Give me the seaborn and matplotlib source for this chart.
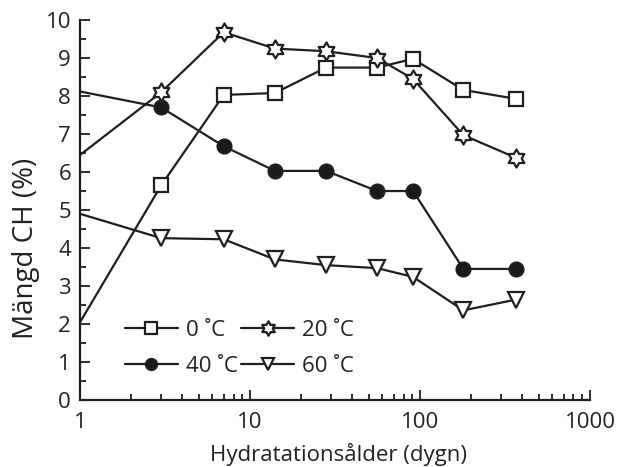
import numpy as np
import pandas as pd
import matplotlib
matplotlib.use("Agg")
import matplotlib.pyplot as plt
from matplotlib.path import Path
from matplotlib.lines import Line2D
from matplotlib.ticker import FixedLocator, NullFormatter
import seaborn as sns

days = [1, 3, 7, 14, 28, 56, 91, 180, 365]
labels = ["0 ˚C", "20 ˚C", "40 ˚C", "60 ˚C"]
ch_0 = [2.05, 5.65, 8.03, 8.08, 8.75, 8.75, 8.98, 8.16, 7.93]
ch_20 = [6.45, 8.1, 9.68, 9.25, 9.18, 9.0, 8.45, 6.97, 6.38]
ch_40 = [8.12, 7.7, 6.68, 6.03, 6.03, 5.5, 5.5, 3.45, 3.45]
ch_60 = [4.9, 4.26, 4.23, 3.7, 3.55, 3.47, 3.24, 2.36, 2.64]

sns.set_theme(style="ticks")
plt.rcParams["font.family"] = ["Open Sans", "DejaVu Sans"]

fig = plt.figure(figsize=(6.21, 4.67), dpi=100)
ax = fig.add_axes([0.129, 0.1435, 0.821, 0.8135])

hexagram = Path.unit_regular_star(6, 0.58)
markers = ["s", hexagram, "o", "v"]
fills = ["white", "white", "#1a1a1a", "white"]
sizes = [10, 13, 10, 11]
col = "#1f1f1f"
tcol = "#222222"

handles = []
for vals, lab, m, fc, ms in zip([ch_0, ch_20, ch_40, ch_60], labels, markers, fills, sizes):
    df = pd.DataFrame({"d": days, "v": vals})
    style = dict(color=col, lw=1.6, marker=m, markersize=ms, markerfacecolor=fc,
                 markeredgecolor=col, markeredgewidth=1.6)
    sns.lineplot(data=df, x="d", y="v", ax=ax, markevery=list(range(1, len(days))),
                 clip_on=False, legend=False, **style)
    handles.append(Line2D([], [], **style))

ax.set_xscale("log")
ax.set_xlim(1, 1000)
ax.set_ylim(0, 10)
ax.set_yticks(range(0, 11))
ax.yaxis.set_minor_locator(FixedLocator(np.arange(0.5, 10, 1)))
ax.set_xticks([1, 10, 100, 1000])
ax.set_xticklabels(["1", "10", "100", "1000"])
ax.xaxis.set_minor_formatter(NullFormatter())
sns.despine(ax=ax)
for s in ["left", "bottom"]:
    ax.spines[s].set_linewidth(1.6)
    ax.spines[s].set_color(col)
ax.tick_params(which="both", direction="in", color=col, width=1.3, labelsize=16,
               labelcolor=tcol)
ax.tick_params(which="major", length=7)
ax.tick_params(which="minor", length=4)
ax.tick_params(axis="x", which="major", pad=9)
ax.tick_params(axis="y", which="major", pad=6.5)
ax.set_xlabel("Hydratationsålder (dygn)", fontsize=16, color=tcol)
ax.xaxis.set_label_coords(0.506, -0.112)
ax.set_ylabel("Mängd CH (%)", fontsize=20, color=tcol)
ax.yaxis.set_label_coords(-0.078, 0.40)

order = [0, 2, 1, 3]
leg = ax.legend([handles[i] for i in order], [labels[i] for i in order], ncol=2,
                loc="lower left", bbox_to_anchor=(0.07, 0.037),
                frameon=False, fontsize=16, handlelength=2.4, handletextpad=0.35,
                columnspacing=0.15, labelspacing=0.69, borderaxespad=0,
                markerscale=0.8)
for t in leg.get_texts():
    t.set_color(tcol)

fig.savefig("out.png", dpi=100, facecolor="white")
